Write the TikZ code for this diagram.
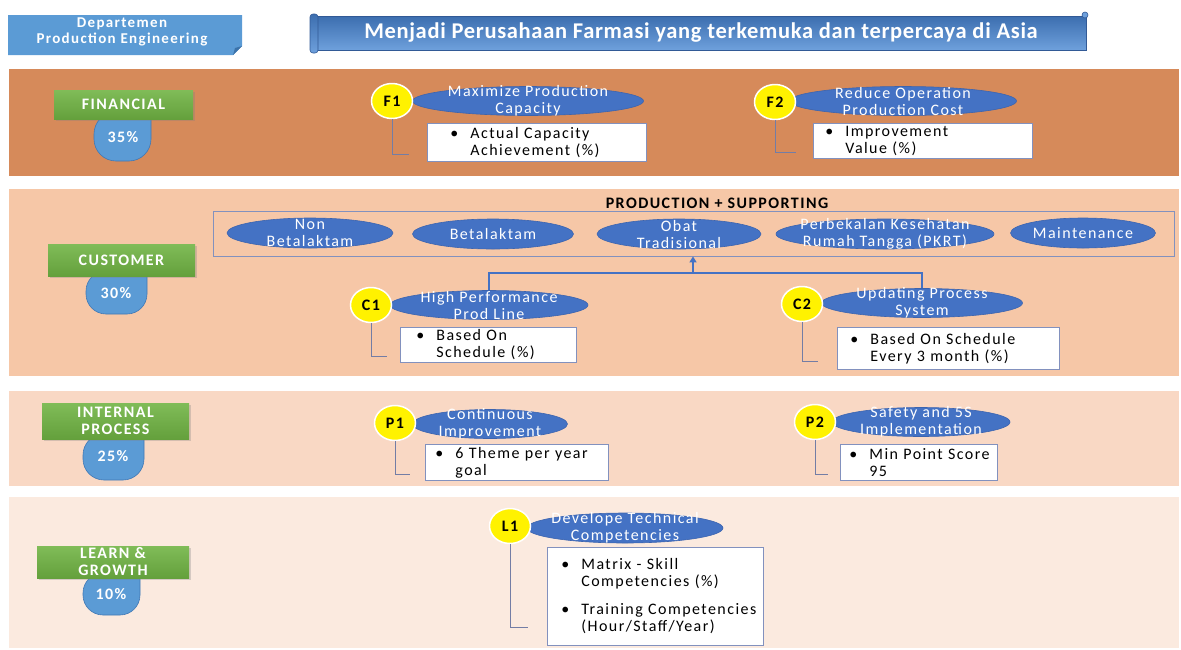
\documentclass[tikz,border=0pt]{standalone}
\usepackage{fontspec}
\setmainfont{Carlito}[LetterSpace=9]
\newfontfamily\bannerfont{Carlito}[LetterSpace=3]
\usetikzlibrary{shapes.geometric,arrows.meta,shadows}

\definecolor{finband}{RGB}{214,138,90}
\definecolor{cusband}{RGB}{246,199,167}
\definecolor{intband}{RGB}{249,216,196}
\definecolor{lrnband}{RGB}{251,234,223}
\definecolor{ovalblue}{RGB}{68,114,196}
\definecolor{ovalline}{RGB}{60,100,175}
\definecolor{dropblue}{RGB}{91,155,213}
\definecolor{dropline}{RGB}{65,120,180}
\definecolor{greenhi}{RGB}{128,188,88}
\definecolor{greenlo}{RGB}{100,160,60}
\definecolor{boxline}{RGB}{130,145,190}
\definecolor{tieline}{RGB}{115,125,165}
\definecolor{deptblue}{RGB}{91,155,213}
\definecolor{deptfold}{RGB}{60,115,170}
\definecolor{bannerhi}{RGB}{110,160,220}
\definecolor{bannerlo}{RGB}{60,110,175}
\definecolor{bannerline}{RGB}{50,90,150}

\newcommand{\dotitem}[1]{\mbox{\makebox[20pt][l]{\textbullet}#1}}
\newcommand{\dotgap}[1]{\mbox{\hspace*{20pt}#1}}

\begin{document}
\begin{tikzpicture}[x=1pt,y=1pt,yscale=-1,
	persp/.style={rectangle, top color=greenhi, bottom color=greenlo, text=white, align=center, inner sep=0pt, font=\fontsize{16}{17}\selectfont\bfseries, drop shadow={opacity=0.3,shadow xshift=2pt,shadow yshift=-2pt}},
	pct/.style={text=white, font=\fontsize{16}{17}\selectfont\bfseries},
	tag/.style={ellipse, fill=yellow, draw=white, line width=1.5pt, minimum width=41pt, minimum height=35pt, inner sep=0pt, font=\fontsize{16}{17}\selectfont\bfseries},
	goal/.style={ellipse, fill=ovalblue, draw=ovalline, line width=0.6pt, minimum height=29pt, inner sep=0pt},
	goaltext/.style={text=white, align=center, font=\fontsize{16}{17}\selectfont},
	kpi/.style={rectangle, fill=white, draw=boxline, line width=0.8pt, anchor=north west, align=left, inner ysep=0pt, font=\fontsize{16}{17}\selectfont},
	tie/.style={draw=tieline, line width=0.8pt},
	feed/.style={draw=ovalblue, line width=2pt}]
	\useasboundingbox (0,0) rectangle (1181,649);
	
	% header
	\fill[deptblue] (8,15) -- (242,15) -- (242,46) -- (233,55) -- (8,55) -- cycle;
	\fill[deptfold] (233,55) -- (235,48) -- (242,46) -- cycle;
	\node[text=white, align=center, font=\fontsize{15}{16}\selectfont\bfseries] (dept) at (122,32) {Departemen\\Production Engineering};
	
	% banner
	\shade[top color=bannerlo, bottom color=bannerhi, draw=bannerline, line width=0.6pt] (314,16) rectangle (1086,50);
	\shade[top color=bannerlo, bottom color=bannerhi, draw=bannerline, line width=0.6pt, rounded corners=3] (310,14) rectangle (318,53);
	\draw[bannerline, fill=bannerhi, line width=0.6pt] (1085,15) circle (3);
	\node[text=white, font=\bannerfont\fontsize{22.5}{24}\selectfont\bfseries] (vision) at (701,33) {Menjadi Perusahaan Farmasi yang terkemuka dan terpercaya di Asia};
	
	% bands
	\fill[finband] (9,69) rectangle (1179,176);
	\fill[cusband] (9,189) rectangle (1179,376);
	\fill[intband] (9,391) rectangle (1179,486);
	\fill[lrnband] (9,497) rectangle (1179,648);
	
	% perspectives
	\filldraw[fill=dropblue, draw=dropline, line width=0.6pt] (151,112) [rounded corners=22] -- (151,161) -- (94,161) -- (94,112) [sharp corners] -- cycle;
	\node[persp, minimum width=139pt, minimum height=29pt] (fin) at (123.5,104.5) {FINANCIAL};
	\node[pct] (finP) at (123,137) {35\%};
	
	\filldraw[fill=dropblue, draw=dropline, line width=0.6pt] (147,271) [rounded corners=20] -- (147,314) -- (86,314) -- (86,271) [sharp corners] -- cycle;
	\node[persp, minimum width=147pt, minimum height=32pt] (cus) at (121.5,260) {CUSTOMER};
	\node[pct] (cusP) at (116,293) {30\%};
	
	\filldraw[fill=dropblue, draw=dropline, line width=0.6pt] (144,434) [rounded corners=21] -- (144,480) -- (83,480) -- (83,434) [sharp corners] -- cycle;
	\node[persp, minimum width=147pt, minimum height=36pt] (int) at (115.5,421) {INTERNAL\\PROCESS};
	\node[pct] (intP) at (113,456) {25\%};
	
	\filldraw[fill=dropblue, draw=dropline, line width=0.6pt] (140,573) [rounded corners=20] -- (140,615) -- (83,615) -- (83,573) [sharp corners] -- cycle;
	\node[persp, minimum width=152pt, minimum height=32pt] (lrn) at (113,562) {LEARN \&\\GROWTH};
	\node[pct] (lrnP) at (111,594) {10\%};
	
	% financial
	\node[goal, minimum width=231pt] (F1g) at (528,101) {};
	\node[goaltext] (F1t) at (F1g) {Maximize Production\\Capacity};
	\node[tag] (F1) at (392,101) {F1};
	\node[kpi, minimum height=38pt, inner xsep=23pt, text width=173pt] (F1k) at (427,123) {\dotitem{Actual Capacity}\\\dotgap{Achievement  (\%)}};
	\coordinate (F1e) at (409,154);
	\draw[tie] (F1.south) |- (F1e);
	
	\node[goal, minimum width=227pt] (F2g) at (903,101) {};
	\node[goaltext] (F2t) at (F2g) {Reduce Operation\\Production Cost};
	\node[tag] (F2) at (775,102) {F2};
	\node[kpi, minimum height=35pt, inner xsep=12pt, text width=195pt] (F2k) at (813,123) {\dotitem{Improvement}\\\dotgap{Value (\%)}};
	\coordinate (F2e) at (796,152);
	\draw[tie] (F2.south) |- (F2e);
	
	% customer
	\node[font=\fontsize{16}{17}\selectfont\bfseries] (grpT) at (717,203) {PRODUCTION + SUPPORTING};
	\node[draw=boxline, line width=0.8pt, minimum width=961pt, minimum height=45pt, inner sep=0pt] (grp) at (693.5,233.5) {};
	
	\node[goal, minimum width=166pt, minimum height=30pt] (pNon) at (310,233) {};
	\node[goaltext] (pNonT) at (pNon) {Non\\Betalaktam};
	\node[goal, minimum width=161pt, minimum height=30pt] (pBeta) at (493,234) {};
	\node[goaltext] (pBetaT) at (pBeta) {Betalaktam};
	\node[goal, minimum width=164pt, minimum height=30pt] (pObat) at (679,234) {};
	\node[goaltext] (pObatT) at (pObat) {Obat\\Tradisional};
	\node[goal, minimum width=218pt, minimum height=30pt] (pPkrt) at (885,234) {};
	\node[goaltext] (pPkrtT) at (pPkrt) {Perbekalan Kesehatan\\Rumah Tangga (PKRT)};
	\node[goal, minimum width=145pt, minimum height=30pt] (pMtc) at (1083,233) {};
	\node[goaltext] (pMtcT) at (pMtc) {Maintenance};
	
	\node[goal, minimum width=198pt] (C1g) at (489,305) {};
	\node[goaltext] (C1t) at (C1g) {High Performance\\Prod Line};
	\node[tag] (C1) at (371,305) {C1};
	\node[kpi, minimum height=35pt, inner xsep=16pt, text width=144pt] (C1k) at (400,327) {\dotitem{Based On}\\\dotgap{Schedule (\%)}};
	\coordinate (C1e) at (387,356);
	\draw[tie] (C1.south) |- (C1e);
	
	\node[goal, minimum width=201pt] (C2g) at (922,303) {};
	\node[goaltext] (C2t) at (C2g) {Updating Process\\System};
	\node[tag] (C2) at (802,304) {C2};
	\node[kpi, minimum height=42pt, inner xsep=13pt, text width=196pt] (C2k) at (837,327) {\dotitem{Based On Schedule}\\\dotgap{Every 3 month (\%)}};
	\coordinate (C2e) at (818,361);
	\draw[tie] (C2.south) |- (C2e);
	
	\coordinate (join) at (693,273);
	\draw[feed, -{Triangle[length=6pt,width=7pt]}] (C1g.north) |- (join) -- (join |- grp.south);
	\draw[feed] (C2g.north) |- (join);
	
	% internal process
	\node[goal, minimum width=155pt] (P1g) at (490,424) {};
	\node[goaltext] (P1t) at (P1g) {Continuous\\Improvement};
	\node[tag] (P1) at (395,423) {P1};
	\node[kpi, minimum height=36pt, inner xsep=10pt, text width=163pt] (P1k) at (425,444) {\dotitem{6 Theme per year}\\\dotgap{goal}};
	\coordinate (P1e) at (410,474);
	\draw[tie] (P1.south) |- (P1e);
	
	\node[goal, minimum width=178pt] (P2g) at (921,422) {};
	\node[goaltext] (P2t) at (P2g) {Safety and 5S\\Implementation};
	\node[tag] (P2) at (815,422) {P2};
	\node[kpi, minimum height=36pt, inner xsep=9pt, text width=139pt] (P2k) at (840,444) {\dotitem{Min Point Score}\\\dotgap{95}};
	\coordinate (P2e) at (828,474);
	\draw[tie] (P2.south) |- (P2e);
	
	% learn and growth
	\node[goal, minimum width=196pt, minimum height=30pt] (L1g) at (625,528) {};
	\node[goaltext] (L1t) at (L1g) {Develope  Technical\\Competencies};
	\node[tag] (L1) at (510,526) {L1};
	\node[kpi, minimum height=98pt, inner xsep=14pt, text width=188pt] (L1k) at (547,547) {\dotitem{Matrix - Skill}\\\dotgap{Competencies  (\%)}\\[11pt]\dotitem{Training Competencies}\\\dotgap{(Hour/Staff/Year)}};
	\coordinate (L1e) at (528,627);
	\draw[tie] (L1.south) |- (L1e);
\end{tikzpicture}
\end{document}
